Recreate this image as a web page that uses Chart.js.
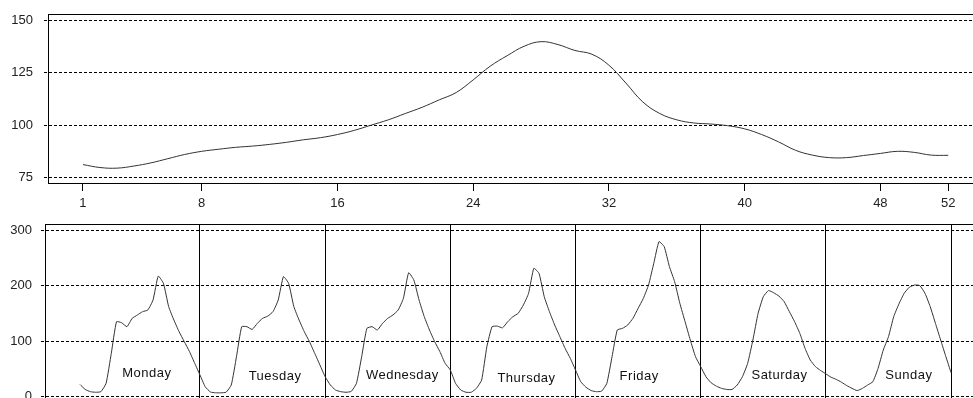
<!DOCTYPE html>
<html>
<head>
<meta charset="utf-8">
<script src="https://cdn.jsdelivr.net/npm/chart.js@4.4.1/dist/chart.umd.min.js"></script>
<style>
  html, body { margin:0; padding:0; background:#fff; overflow:hidden; width:973px; height:398px; }
  canvas { position:absolute; left:0; }
  #top { top:0; }
  #bottom { top:210px; }
</style>
</head>
<body>
<canvas id="top" width="973" height="215"></canvas>
<canvas id="bottom" width="973" height="210"></canvas>
<script>
// ---- data ----
const weeklyValues = [81.2,79.8,79.5,80.5,82,84,86,87.5,88.5,89.4,90,90.8,91.8,93,94,95.5,97.5,100,102.5,105.5,108.5,112,115.5,121.5,128,133,137.5,139.7,138.3,135.5,133.7,128.5,120,111,105.5,102.5,101,100.5,99.7,98.2,95.5,92,88,85.7,84.5,84.5,85.5,86.5,87.5,87,85.7,85.6];
const weekTicks = [1,8,16,24,32,40,48,52];
const weeklyYTicks = [75,100,125,150];

const days = ["Monday","Tuesday","Wednesday","Thursday","Friday","Saturday","Sunday"];
const monday    = [22,13,9,8,9,24,78,135,133,126,141,147,153,156,174,217,204,162,138,117,99,81,60,39];
const tuesday   = [18,8.5,7,7,8,21,72,126,126,121,132,141,145,153,174,216,204,162,138,117,99,78,57,36];
const wednesday = [21,12,9,8,9.5,24,72,123,126,120,132,141,147,156,177,223,210,174,144,120,99,81,60,48];
const thursday  = [24,12,8,8,15,30,90,126,127,124,135,144,150,165,186,231,222,180,153,129,108,87,69,48];
const friday    = [27,17,11,9,10,24,72,120,123,129,141,159,177,201,240,279,270,234,207,168,135,102,72,54];
const saturday  = [36,25,19,15,13,13,21,36,60,102,150,180,191,187,181,171,153,135,114,87,66,54,47,41];
const sunday    = [35,31,26,20,15,11,15,21,27,51,84,108,144,167,186,197,201,200,186,162,132,102,72,43];
const hourlyYTicks = [0,100,200,300];

// ---- helpers ----
const FONT = "'Liberation Sans', Arial, sans-serif";
const hourly = [].concat(monday,tuesday,wednesday,thursday,friday,saturday,sunday);
const dayBoundaries = days.map((d,i)=>(i+1)*24);

function noPad(s){ s.paddingTop=0; s.paddingBottom=0; s.paddingLeft=0; s.paddingRight=0; }

const frameTop = {
  id:'frameTop',
  afterDraw(chart){
    const {ctx, chartArea:a} = chart;
    ctx.save();
    ctx.strokeStyle='#000'; ctx.lineWidth=1;
    ctx.beginPath();
    ctx.moveTo(a.left, Math.round(a.top)+0.5);
    ctx.lineTo(a.right, Math.round(a.top)+0.5);
    ctx.stroke();
    ctx.restore();
  }
};

const dayLabelOffset = [13.8,14.4,14.8,14.6,12.2,15.1,15.9]; // hours into the day
const dayLabelLevel  = [41,36,39,33,37,39,39];
const dayLabels = {
  id:'dayLabels',
  afterDatasetsDraw(chart){
    const {ctx} = chart;
    const xs = chart.scales.x, ys = chart.scales.y;
    ctx.save();
    ctx.font = "13px " + FONT;
    try { ctx.letterSpacing = "0.5px"; } catch(e){}
    ctx.fillStyle = '#111';
    ctx.textAlign = 'center';
    ctx.textBaseline = 'middle';
    days.forEach((d,i)=>{
      ctx.fillText(d, xs.getPixelForValue(i*24 + dayLabelOffset[i]), ys.getPixelForValue(dayLabelLevel[i]));
    });
    ctx.restore();
  }
};

Chart.defaults.font.family = FONT;
Chart.defaults.font.size = 13;
Chart.defaults.color = '#222';

// ---- top chart ----
new Chart(document.getElementById('top'), {
  type:'line',
  data:{ datasets:[{
    data: weeklyValues.map((v,i)=>({x:i+1, y:v})),
    borderColor:'#333', borderWidth:1, pointRadius:0, tension:0.4, fill:false
  }]},
  options:{
    responsive:false, animation:false, devicePixelRatio:1,
    layout:{ padding:{ top:14, left:0, right:0, bottom:0 } },
    plugins:{ legend:{display:false}, tooltip:{enabled:false} },
    scales:{
      x:{
        type:'linear', min:-1.06, max:53.46,
        afterBuildTicks(s){ s.ticks = weekTicks.map(v=>({value:v})); },
        afterFit(s){ s.height = 32; noPad(s); },
        grid:{ drawOnChartArea:false, drawTicks:true, tickLength:8, color:'#000' },
        border:{ display:true, color:'#000' },
        ticks:{ padding:5, autoSkip:false, maxRotation:0, color:'#222', font:{size:13} }
      },
      y:{
        type:'linear', min:72.43, max:152.86,
        afterBuildTicks(s){ s.ticks = weeklyYTicks.map(v=>({value:v})); },
        afterFit(s){ s.width = 48; noPad(s); },
        grid:{ color:'#000', tickLength:4, tickBorderDash:[3,2] },
        border:{ display:true, color:'#000', dash:[3,2] },
        ticks:{ padding:11, color:'#222', font:{size:13} }
      }
    }
  },
  plugins:[frameTop]
});

// ---- bottom chart ----
new Chart(document.getElementById('bottom'), {
  type:'line',
  data:{ datasets:[{
    data: hourly.map((v,i)=>({x:i+1, y:v})),
    borderColor:'#333', borderWidth:1, pointRadius:0, tension:0.15, fill:false
  }]},
  options:{
    responsive:false, animation:false, devicePixelRatio:1,
    layout:{ padding:{ top:14, left:0, right:0, bottom:0 } },
    plugins:{ legend:{display:false}, tooltip:{enabled:false} },
    scales:{
      x:{
        type:'linear', min:-5.71, max:172.2,
        afterBuildTicks(s){ s.ticks = dayBoundaries.map(v=>({value:v})); },
        afterFit(s){ s.height = 18; noPad(s); },
        grid:{ drawOnChartArea:true, drawTicks:false, color:'#000' },
        border:{ display:true, color:'#000' },
        ticks:{ display:false }
      },
      y:{
        type:'linear', min:-9.54, max:310.8,
        afterBuildTicks(s){ s.ticks = hourlyYTicks.map(v=>({value:v})); },
        afterFit(s){ s.width = 45; noPad(s); },
        grid:{ color:'#000', tickLength:4, tickBorderDash:[3,2] },
        border:{ display:true, color:'#000', dash:[3,2] },
        ticks:{ padding:9, color:'#222', font:{size:13} }
      }
    }
  },
  plugins:[frameTop, dayLabels]
});
</script>
</body>
</html>
